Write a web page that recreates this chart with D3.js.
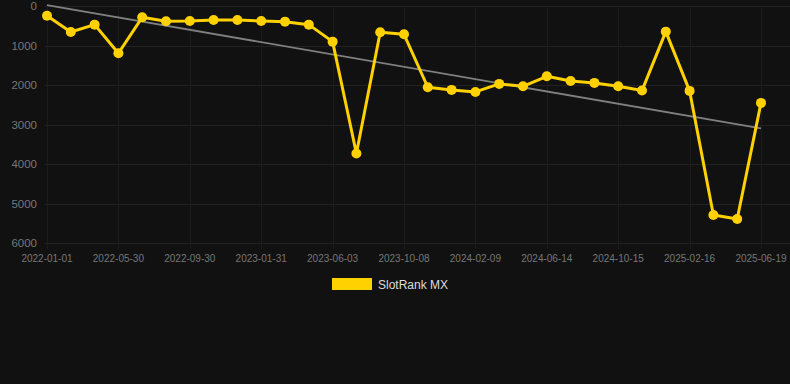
<!DOCTYPE html>
<html>
<head>
<meta charset="utf-8">
<script src="https://cdn.jsdelivr.net/npm/d3@7"></script>
<style>
  html, body { margin: 0; padding: 0; background: #111111; }
  #chart { width: 790px; height: 384px; }
  text { font-family: "Liberation Sans", Arial, sans-serif; }
</style>
</head>
<body>
<div id="chart"></div>
<script>
// dates for every point (label shown on every third one)
const dates = [
  '2022-01-01', '2022-02-12', '2022-04-06', '2022-05-30', '2022-06-30', '2022-07-31',
  '2022-09-30', '2022-10-31', '2022-12-01', '2023-01-31', '2023-03-02', '2023-04-02',
  '2023-06-03', '2023-07-05', '2023-08-20', '2023-10-08', '2023-11-10', '2023-12-20',
  '2024-02-09', '2024-03-10', '2024-05-01', '2024-06-14', '2024-07-20', '2024-09-01',
  '2024-10-15', '2024-11-20', '2025-01-05', '2025-02-16', '2025-03-30', '2025-05-10',
  '2025-06-19'
];
const rankValues = [
  245, 657, 472, 1197, 287, 388, 379, 354, 354, 379, 396, 472,
  902, 3734, 666, 717, 2057, 2124, 2175, 1972, 2032, 1780, 1897, 1947,
  2032, 2141, 649, 2149, 5293, 5394, 2453
];
const yTicks = [0, 1000, 2000, 3000, 4000, 5000, 6000];
const seriesName = 'SlotRank MX';

const width = 790, height = 384;
const margin = { top: 6, right: 29, bottom: 141, left: 47 };

const svg = d3.select('#chart').append('svg')
  .attr('width', width)
  .attr('height', height);

const x = d3.scalePoint()
  .domain(d3.range(dates.length))
  .range([margin.left, width - margin.right]);

const y = d3.scaleLinear()
  .domain([0, 6000])
  .range([margin.top, height - margin.bottom]);

const grid = svg.append('g').attr('class', 'grid');

// horizontal grid
grid.selectAll('.hgrid')
  .data(yTicks)
  .enter().append('line')
  .attr('x1', margin.left - 2)
  .attr('x2', width)
  .attr('y1', d => Math.round(y(d)) + 0.5)
  .attr('y2', d => Math.round(y(d)) + 0.5)
  .attr('stroke', '#222222')
  .attr('stroke-width', 1);

const labelIdx = d3.range(0, dates.length, 3);

// vertical grid
grid.selectAll('.vgrid')
  .data(labelIdx)
  .enter().append('line')
  .attr('x1', d => Math.round(x(d)) + 0.5)
  .attr('x2', d => Math.round(x(d)) + 0.5)
  .attr('y1', margin.top)
  .attr('y2', height - margin.bottom + 6)
  .attr('stroke', '#1c1c1c')
  .attr('stroke-width', 1);

// y labels
svg.append('g').selectAll('text')
  .data(yTicks)
  .enter().append('text')
  .attr('x', 37)
  .attr('y', d => y(d) + 4)
  .attr('text-anchor', 'end')
  .attr('fill', '#777777')
  .style('font-size', '11.5px')
  .text(d => d);

// x labels
svg.append('g').selectAll('text')
  .data(labelIdx)
  .enter().append('text')
  .attr('x', d => x(d))
  .attr('y', 262)
  .attr('text-anchor', 'middle')
  .attr('fill', '#777777')
  .style('font-size', '10px')
  .text(d => dates[d]);

// trend line (least squares over the series)
const n = rankValues.length;
const mx = d3.mean(d3.range(n));
const my = d3.mean(rankValues);
const slope = d3.sum(rankValues, (v, i) => (i - mx) * (v - my)) /
  d3.sum(d3.range(n), i => (i - mx) * (i - mx));
const intercept = my - slope * mx;

svg.append('line')
  .attr('x1', x(0))
  .attr('y1', y(intercept))
  .attr('x2', x(n - 1))
  .attr('y2', y(intercept + slope * (n - 1)))
  .attr('stroke', '#808080')
  .attr('stroke-width', 1.8);

// series line
const line = d3.line()
  .x((d, i) => x(i))
  .y(d => y(d));

svg.append('path')
  .datum(rankValues)
  .attr('fill', 'none')
  .attr('stroke', '#ffd100')
  .attr('stroke-width', 3)
  .attr('stroke-linejoin', 'round')
  .attr('d', line);

svg.append('g').selectAll('circle')
  .data(rankValues)
  .enter().append('circle')
  .attr('cx', (d, i) => x(i))
  .attr('cy', d => y(d))
  .attr('r', 5)
  .attr('fill', '#ffd100');

// legend
const legend = svg.append('g').attr('transform', 'translate(332,278)');
legend.append('rect')
  .attr('width', 40)
  .attr('height', 12)
  .attr('fill', '#ffd100');
legend.append('text')
  .attr('x', 46)
  .attr('y', 10.5)
  .attr('fill', '#dddddd')
  .style('font-size', '12px')
  .text(seriesName);
</script>
</body>
</html>
